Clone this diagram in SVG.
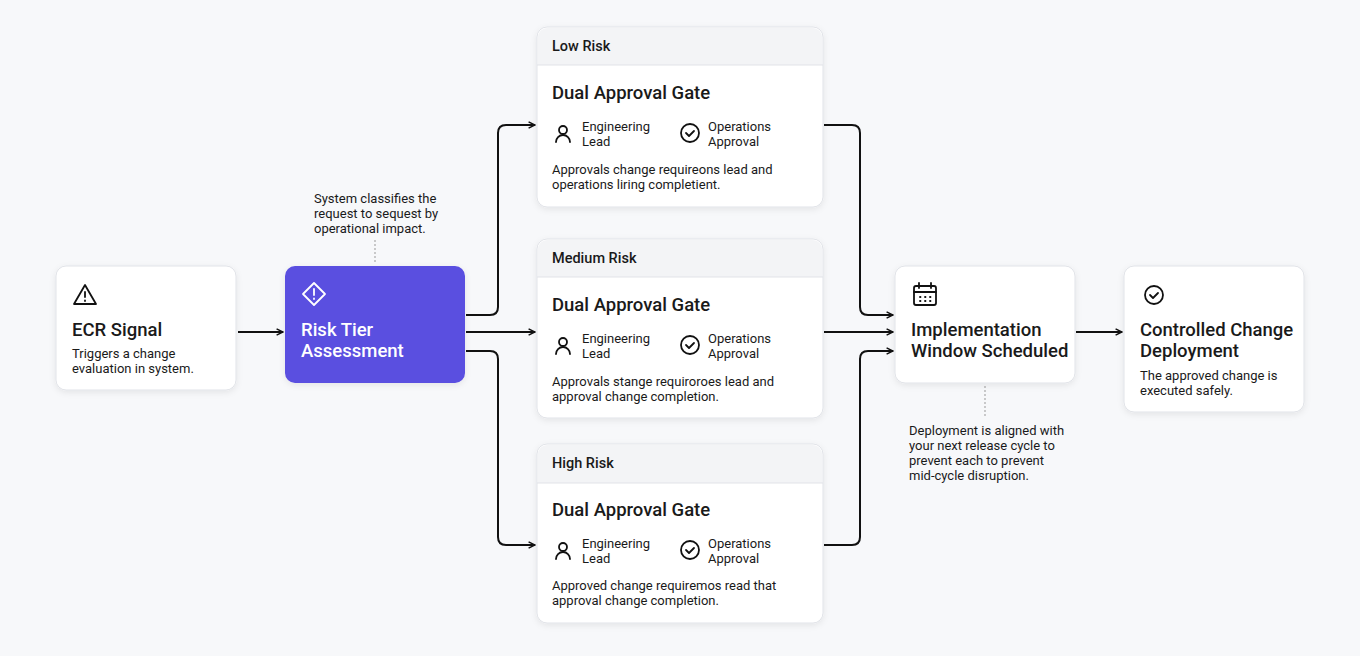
<svg xmlns="http://www.w3.org/2000/svg" width="1360" height="656" viewBox="0 0 1360 656">
<style>
text{font-family:Roboto,"Liberation Sans",sans-serif;fill:#1a1a1a}
.card{fill:#fff;stroke:#e1e3e8;stroke-width:1}
.hdr{fill:#f3f4f6}
.t{font-size:18.5px;font-weight:500}
.h{font-size:14.5px;font-weight:500}
.s{font-size:13px}
.c{fill:none;stroke:#111;stroke-width:2}
.ic{fill:none;stroke:#111;stroke-width:1.8;stroke-linecap:round;stroke-linejoin:round}
.dot{stroke:#999;stroke-width:1;stroke-dasharray:2 2}
</style>
<defs>
<marker id="a" viewBox="0 0 10 10" refX="9" refY="5" markerWidth="8" markerHeight="8" markerUnits="userSpaceOnUse" orient="auto"><path d="M1 1L9 5L1 9" fill="none" stroke="#111" stroke-width="1.8"/></marker>
<filter id="sh" x="-10%" y="-10%" width="120%" height="130%"><feDropShadow dx="0" dy="2" stdDeviation="3" flood-opacity="0.08"/></filter>
<g id="person"><circle cx="0" cy="-4" r="4" class="ic"/><path d="M-7 8a7 7 0 0 1 14 0" class="ic"/></g>
<g id="check"><circle cx="0" cy="0" r="9" class="ic"/><path d="M-4 0l3 3l5-5" class="ic"/></g>
</defs>
<rect width="1360" height="656" fill="#f7f8fa"/>
<g id="connectors">
<path class="c" marker-end="url(#a)" d="M238 332H283"/>
<path class="c" marker-end="url(#a)" d="M466 315H490q8 0 8-8V133q0-8 8-8H535"/>
<path class="c" marker-end="url(#a)" d="M466 332H535"/>
<path class="c" marker-end="url(#a)" d="M466 351H490q8 0 8 8V537q0 8 8 8H535"/>
<path class="c" marker-end="url(#a)" d="M824 125H852q8 0 8 8V307q0 8 8 8H893"/>
<path class="c" marker-end="url(#a)" d="M824 332H893"/>
<path class="c" marker-end="url(#a)" d="M824 545H852q8 0 8-8V359q0-8 8-8H893"/>
<path class="c" marker-end="url(#a)" d="M1076 332H1122"/>
<path class="dot" d="M375 240V264"/>
<path class="dot" d="M985 386V416"/>
</g>
<g id="ecr">
<rect class="card" x="56" y="266" width="180" height="124" rx="10" filter="url(#sh)"/>
<path class="ic" d="M85 285L74 304H96Z M85 292v5 M85 300.5v0.5"/>
<text x="72" y="336" class="t">ECR Signal</text>
<text x="72" y="358" class="s">Triggers a change</text>
<text x="72" y="373" class="s">evaluation in system.</text>
</g>
<g id="risk">
<rect x="285" y="266" width="180" height="117" rx="10" fill="#5a4fe0" filter="url(#sh)"/>
<path d="M314 283l11 11l-11 11l-11-11Z M314 289v6 M314 298.5v0.5" fill="none" stroke="#fff" stroke-width="1.8" stroke-linecap="round" stroke-linejoin="round"/>
<text x="301" y="336" class="t" style="fill:#fff">Risk Tier</text>
<text x="301" y="357" class="t" style="fill:#fff">Assessment</text>
<text x="314" y="203" class="s">System classifies the</text>
<text x="314" y="218" class="s">request to sequest by</text>
<text x="314" y="233" class="s">operational impact.</text>
</g>
<g id="low">
<rect class="card" x="537" y="27" width="286" height="180" rx="10" filter="url(#sh)"/>
<path class="hdr" d="M538 65V37a9 9 0 0 1 9-9H813a9 9 0 0 1 9 9V65Z"/>
<path d="M537 65H823" stroke="#e1e3e8"/>
<text x="552" y="51" class="h">Low Risk</text>
<text x="552" y="99" class="t">Dual Approval Gate</text>
<use href="#person" x="563" y="134"/><use href="#check" x="690" y="133"/>
<text x="582" y="131" class="s">Engineering</text><text x="582" y="146" class="s">Lead</text>
<text x="708" y="131" class="s">Operations</text><text x="708" y="146" class="s">Approval</text>
<text x="552" y="174" class="s">Approvals change requireons lead and</text>
<text x="552" y="189" class="s">operations liring completient.</text>
</g>
<g id="medium">
<rect class="card" x="537" y="239" width="286" height="179" rx="10" filter="url(#sh)"/>
<path class="hdr" d="M538 277V249a9 9 0 0 1 9-9H813a9 9 0 0 1 9 9V277Z"/>
<path d="M537 277H823" stroke="#e1e3e8"/>
<text x="552" y="263" class="h">Medium Risk</text>
<text x="552" y="311" class="t">Dual Approval Gate</text>
<use href="#person" x="563" y="346"/><use href="#check" x="690" y="345"/>
<text x="582" y="343" class="s">Engineering</text><text x="582" y="358" class="s">Lead</text>
<text x="708" y="343" class="s">Operations</text><text x="708" y="358" class="s">Approval</text>
<text x="552" y="386" class="s">Approvals stange requiroroes lead and</text>
<text x="552" y="401" class="s">approval change completion.</text>
</g>
<g id="high">
<rect class="card" x="537" y="444" width="286" height="179" rx="10" filter="url(#sh)"/>
<path class="hdr" d="M538 483V454a9 9 0 0 1 9-9H813a9 9 0 0 1 9 9V483Z"/>
<path d="M537 483H823" stroke="#e1e3e8"/>
<text x="552" y="468" class="h">High Risk</text>
<text x="552" y="516" class="t">Dual Approval Gate</text>
<use href="#person" x="563" y="551"/><use href="#check" x="690" y="550"/>
<text x="582" y="548" class="s">Engineering</text><text x="582" y="563" class="s">Lead</text>
<text x="708" y="548" class="s">Operations</text><text x="708" y="563" class="s">Approval</text>
<text x="552" y="590" class="s">Approved change requiremos read that</text>
<text x="552" y="605" class="s">approval change completion.</text>
</g>
<g id="impl">
<rect class="card" x="895" y="266" width="180" height="117" rx="10" filter="url(#sh)"/>
<rect class="ic" x="914" y="286" width="22" height="19" rx="2"/>
<path class="ic" d="M914 292H936 M919 283v5 M931 283v5 M920 297h0.5 M925 297h0.5 M930 297h0.5 M920 301h0.5 M925 301h0.5 M930 301h0.5"/>
<text x="911" y="336" class="t">Implementation</text>
<text x="911" y="357" class="t">Window Scheduled</text>
<text x="909" y="435" class="s">Deployment is aligned with</text>
<text x="909" y="450" class="s">your next release cycle to</text>
<text x="909" y="465" class="s">prevent each to prevent</text>
<text x="909" y="480" class="s">mid-cycle disruption.</text>
</g>
<g id="deploy">
<rect class="card" x="1124" y="266" width="180" height="146" rx="10" filter="url(#sh)"/>
<use href="#check" x="1154" y="295"/>
<text x="1140" y="336" class="t">Controlled Change</text>
<text x="1140" y="357" class="t">Deployment</text>
<text x="1140" y="380" class="s">The approved change is</text>
<text x="1140" y="395" class="s">executed safely.</text>
</g>
</svg>
